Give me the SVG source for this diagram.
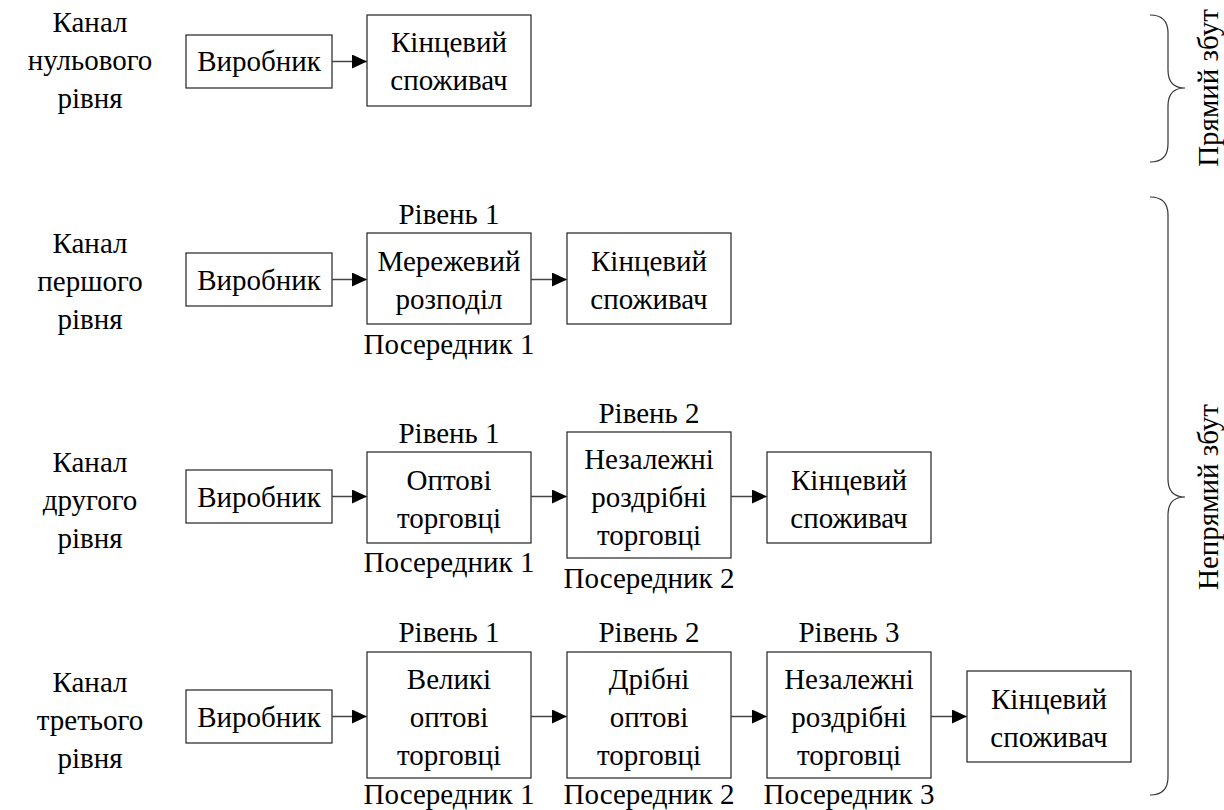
<svg xmlns="http://www.w3.org/2000/svg" width="1224" height="810" viewBox="0 0 1224 810">
<style>
text{font-family:"Liberation Serif","Times New Roman",serif;font-size:29px;fill:#000;text-anchor:middle}
.box{fill:#fff;stroke:#222;stroke-width:1.2}
.conn{stroke:#444;stroke-width:1.3;fill:none}
.brace{stroke:#333;stroke-width:1.2;fill:none}
</style>
<defs>
<marker id="ah" markerWidth="16" markerHeight="14" refX="15" refY="7" orient="auto" markerUnits="userSpaceOnUse">
<path d="M0,0 L15,7 L0,14 Z" fill="#000"/>
</marker>
</defs>
<rect width="1224" height="810" fill="#fff"/>

<g id="labels">
<text transform="translate(90,32)">Канал</text><text transform="translate(90,70)">нульового</text><text transform="translate(90,108)">рівня</text>
<text transform="translate(90,253)">Канал</text><text transform="translate(90,291)">першого</text><text transform="translate(90,329)">рівня</text>
<text transform="translate(90,472)">Канал</text><text transform="translate(90,510)">другого</text><text transform="translate(90,548)">рівня</text>
<text transform="translate(90,692)">Канал</text><text transform="translate(90,730)">третього</text><text transform="translate(90,768)">рівня</text>
</g>

<g id="row0">
<g id="r0-producer"><rect class="box" x="186" y="35" width="146" height="53"/><text transform="translate(259,71)">Виробник</text></g>
<g id="r0-consumer"><rect class="box" x="367" y="15" width="164" height="91"/><text transform="translate(449,52)">Кінцевий</text><text transform="translate(449,90)">споживач</text></g>
</g>

<g id="row1">
<g id="r1-producer"><rect class="box" x="186" y="253" width="146" height="53"/><text transform="translate(259,290)">Виробник</text></g>
<g id="r1-mid1"><text transform="translate(449,224)">Рівень 1</text><rect class="box" x="367" y="233" width="164" height="91"/><text transform="translate(449,271)">Мережевий</text><text transform="translate(449,309)">розподіл</text><text transform="translate(449,354)">Посередник 1</text></g>
<g id="r1-consumer"><rect class="box" x="567" y="233" width="164" height="91"/><text transform="translate(649,271)">Кінцевий</text><text transform="translate(649,309)">споживач</text></g>
</g>

<g id="row2">
<g id="r2-producer"><rect class="box" x="186" y="470" width="146" height="53"/><text transform="translate(259,507)">Виробник</text></g>
<g id="r2-mid1"><text transform="translate(449,443)">Рівень 1</text><rect class="box" x="367" y="452" width="164" height="91"/><text transform="translate(449,490)">Оптові</text><text transform="translate(449,528)">торговці</text><text transform="translate(449,572)">Посередник 1</text></g>
<g id="r2-mid2"><text transform="translate(649,423)">Рівень 2</text><rect class="box" x="567" y="432" width="164" height="126"/><text transform="translate(649,469)">Незалежні</text><text transform="translate(649,507)">роздрібні</text><text transform="translate(649,545)">торговці</text><text transform="translate(649,588)">Посередник 2</text></g>
<g id="r2-consumer"><rect class="box" x="767" y="452" width="164" height="91"/><text transform="translate(849,490)">Кінцевий</text><text transform="translate(849,528)">споживач</text></g>
</g>

<g id="row3">
<g id="r3-producer"><rect class="box" x="186" y="690" width="146" height="53"/><text transform="translate(259,727)">Виробник</text></g>
<g id="r3-mid1"><text transform="translate(449,642)">Рівень 1</text><rect class="box" x="367" y="652" width="164" height="126"/><text transform="translate(449,689)">Великі</text><text transform="translate(449,727)">оптові</text><text transform="translate(449,765)">торговці</text><text transform="translate(449,804)">Посередник 1</text></g>
<g id="r3-mid2"><text transform="translate(649,642)">Рівень 2</text><rect class="box" x="567" y="652" width="164" height="126"/><text transform="translate(649,689)">Дрібні</text><text transform="translate(649,727)">оптові</text><text transform="translate(649,765)">торговці</text><text transform="translate(649,804)">Посередник 2</text></g>
<g id="r3-mid3"><text transform="translate(849,642)">Рівень 3</text><rect class="box" x="767" y="652" width="164" height="126"/><text transform="translate(849,689)">Незалежні</text><text transform="translate(849,727)">роздрібні</text><text transform="translate(849,765)">торговці</text><text transform="translate(849,804)">Посередник 3</text></g>
<g id="r3-consumer"><rect class="box" x="967" y="671" width="164" height="91"/><text transform="translate(1049,709)">Кінцевий</text><text transform="translate(1049,747)">споживач</text></g>
</g>

<g id="connectors">
<line class="conn" x1="332" y1="61.5" x2="367" y2="61.5" marker-end="url(#ah)"/>
<line class="conn" x1="332" y1="279.5" x2="367" y2="279.5" marker-end="url(#ah)"/>
<line class="conn" x1="531" y1="279.5" x2="567" y2="279.5" marker-end="url(#ah)"/>
<line class="conn" x1="332" y1="496.5" x2="367" y2="496.5" marker-end="url(#ah)"/>
<line class="conn" x1="531" y1="496.5" x2="567" y2="496.5" marker-end="url(#ah)"/>
<line class="conn" x1="731" y1="496.5" x2="767" y2="496.5" marker-end="url(#ah)"/>
<line class="conn" x1="332" y1="716.5" x2="367" y2="716.5" marker-end="url(#ah)"/>
<line class="conn" x1="531" y1="716.5" x2="567" y2="716.5" marker-end="url(#ah)"/>
<line class="conn" x1="731" y1="716.5" x2="767" y2="716.5" marker-end="url(#ah)"/>
<line class="conn" x1="931" y1="716.5" x2="967" y2="716.5" marker-end="url(#ah)"/>
</g>

<g id="braces">
<path class="brace" d="M1150,15 Q1168,15 1168,33 L1168,70 Q1168,88 1185,88 Q1168,88 1168,106 L1168,144 Q1168,162 1150,162"/>
<path class="brace" d="M1150,197 Q1168,197 1168,215 L1168,479 Q1168,497 1185,497 Q1168,497 1168,515 L1168,777 Q1168,795 1150,795"/>
<text transform="translate(1218,88) rotate(-90)">Прямий збут</text>
<text transform="translate(1218,497) rotate(-90)">Непрямий збут</text>
</g>
</svg>
